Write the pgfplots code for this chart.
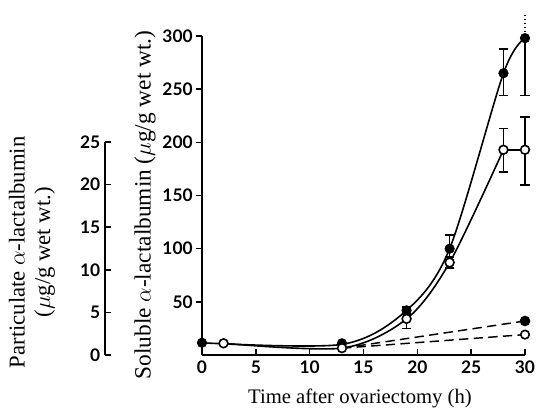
\documentclass[border=0pt]{standalone}
\usepackage{fontspec}
\setmainfont{Liberation Serif}
\newfontfamily\tickfont{Lato}
\usepackage{pgfplots}
\pgfplotsset{compat=1.18}

% soluble alpha-lactalbumin (ug/g wet wt.)
\pgfplotstableread{
t   y    ep  em
0   11.5 0   0
13  11   0   0
19  42   3   4
23  100  13  10
28  265  23  21
30  298  0   54
}\filled
\pgfplotstableread{
t   y    ep  em
2   11   0   0
13  6.5  0   0
19  34   5   9
23  87   5   5
28  193  20  21
30  193  31  33
}\open
% particulate alpha-lactalbumin (ug/g wet wt.)
\pgfplotstableread{
t   y
13  0.8
30  4.0
}\partfilled
\pgfplotstableread{
t   y
13  0.8
30  2.4
}\partopen

\pgfplotsset{
  tickfnt/.style={font=\tickfont\bfseries\fontsize{13}{13}\selectfont},
}

\begin{document}
\begin{tikzpicture}
\begin{axis}[
    at={(0,0)}, anchor=south west,
    scale only axis,
    width=242.25pt, height=239.25pt,
    xmin=0, xmax=30, ymin=0, ymax=300,
    axis x line=bottom, axis y line=left,
    axis line style={-, line width=1.3pt},
    xtick={0,5,...,30}, ytick={50,100,...,300},
    xtick align=inside, ytick align=outside,
    major tick length=4.5pt,
    tick style={line width=1.2pt, black},
    ticklabel style={tickfnt},
    /pgf/number format/assume math mode=true,
    xticklabel style={yshift=-1pt},
    yticklabel style={xshift=1pt},
    clip=false,
    error bars/error mark options={rotate=90, mark size=3.5pt, line width=1.2pt},
    error bars/error bar style={line width=1.2pt},
]
% smooth curves
\addplot[line width=1.2pt, smooth, tension=0.5] coordinates {(0,11.5)(13,10)(19,42)(23,100)(28,265)(30,298)};
\addplot[line width=1.2pt, smooth, tension=0.5] coordinates {(2,11)(13,6.5)(19,34)(23,87)(28,193)};
\addplot[line width=1.2pt] coordinates {(28,193)(30,193)};
% particulate, on the soluble scale (1 particulate unit = 8 soluble units)
\addplot[line width=1.1pt, dash pattern=on 7pt off 4pt, y filter/.expression={8*y},
    mark=*, mark size=3.4pt, mark options={solid, fill=black}, mark indices={2}]
    table[x=t, y=y] {\partfilled};
\addplot[line width=1.1pt, dash pattern=on 7pt off 4pt, y filter/.expression={8*y},
    mark=*, mark size=3.2pt, mark options={solid, fill=white, line width=1.2pt}, mark indices={2}]
    table[x=t, y=y] {\partopen};
% dotted continuation of the 30 h error bar
\addplot[line width=1pt, dotted] coordinates {(30,300)(30,321)};
% soluble points with error bars
\addplot[only marks, mark=*, mark size=3.6pt, mark options={fill=black},
    error bars/.cd, y dir=both, y explicit]
    table[x=t, y=y, y error plus=ep, y error minus=em] {\filled};
\addplot[only marks, mark=*, mark size=3.3pt, mark options={fill=white, line width=1.2pt},
    error bars/.cd, y dir=both, y explicit]
    table[x=t, y=y, y error plus=ep, y error minus=em] {\open};
\end{axis}

\begin{axis}[
    at={(-72.75pt,0pt)}, anchor=south west,
    scale only axis,
    width=10pt, height=159.75pt,
    xmin=0, xmax=1, ymin=0, ymax=25,
    axis x line=none, axis y line=left,
    axis line style={-, line width=1.3pt},
    ytick={0,5,...,25},
    ytick align=inside,
    major tick length=4.5pt,
    tick style={line width=1.2pt, black},
    ticklabel style={tickfnt},
    /pgf/number format/assume math mode=true,
]
\end{axis}

\node[rotate=90, align=center, font=\fontsize{17}{19}\selectfont]
    at (-127.5pt,77pt) {Particulate $\alpha$-lactalbumin\\($\mu$g/g wet wt.)};
\node[rotate=90, font=\fontsize{17.5}{19}\selectfont]
    at (-42.75pt,112.5pt) {Soluble $\alpha$-lactalbumin ($\mu$g/g wet wt.)};
\node[font=\fontsize{15.5}{17}\selectfont] at (118.5pt,-32.25pt) {Time after ovariectomy (h)};

\pgfresetboundingbox
\path[use as bounding box] (-151.5pt,-42.75pt) rectangle (250.5pt,266.25pt);
\end{tikzpicture}
\end{document}
